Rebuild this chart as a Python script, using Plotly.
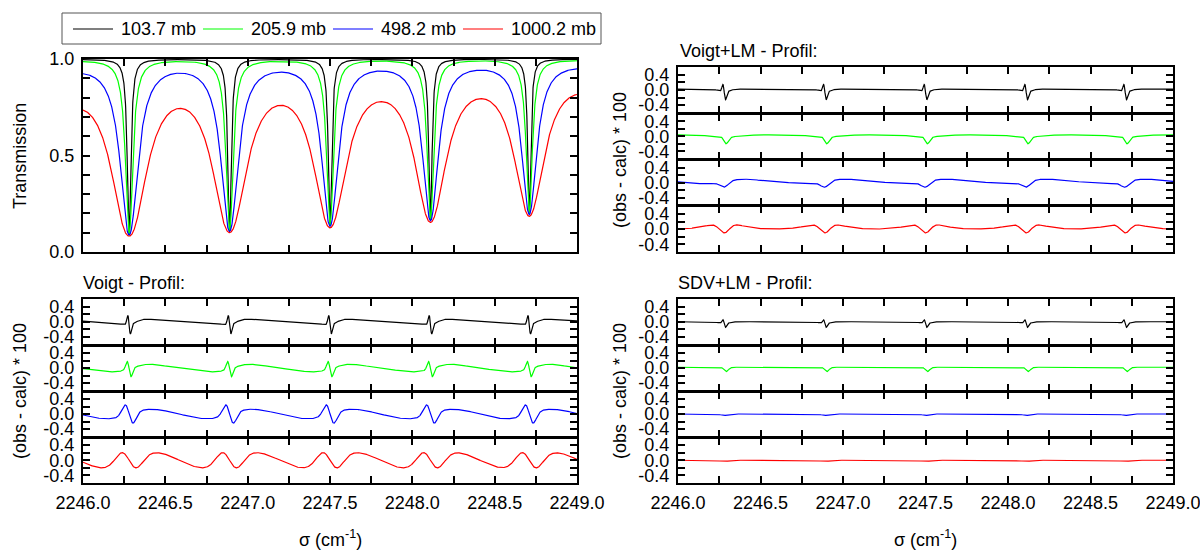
import numpy as np
import plotly.graph_objects as go

W, H = 1200, 551

# ---------------- data ----------------
pressure_labels = ["103.7 mb", "205.9 mb", "498.2 mb", "1000.2 mb"]
pressure_mb = [103.7, 205.9, 498.2, 1000.2]
trace_colors = ["#000000", "#00ff00", "#0000ff", "#ff0000"]

# absorption lines visible in the window (cm-1) and their transmission minima at 1000.2 mb
line_centers = [2246.28, 2246.89, 2247.50, 2248.11, 2248.71]
trough_min_1000 = [0.082, 0.100, 0.125, 0.153, 0.185]
# neighbouring lines just outside the window and their centre optical depth
outer_centers = [2245.67, 2249.31]
outer_tau = [2.6, 1.5]
# Lorentz half width (cm-1) at 1013.25 mb
hwhm_at_1013mb = 0.075

x_range = [2246.0, 2249.0]
x_ticks = [2246.0, 2246.5, 2247.0, 2247.5, 2248.0, 2248.5, 2249.0]
x_tick_labels = ["2246.0", "2246.5", "2247.0", "2247.5", "2248.0", "2248.5", "2249.0"]
x_minor_ticks = [2246.25, 2246.75, 2247.25, 2247.75, 2248.25, 2248.75]

trans_ticks = [0.0, 0.5, 1.0]
trans_tick_labels = ["0.0", "0.5", "1.0"]
res_ticks = [-0.4, 0.0, 0.4]
res_tick_labels = ["-0.4", "0.0", "0.4"]

panel_titles = ["Voigt - Profil:", "Voigt+LM - Profil:", "SDV+LM - Profil:"]

# residual signature around every line, per pressure (103.7, 205.9, 498.2, 1000.2 mb):
# (narrow antisym. amp, width, broad antisym. amp, width, central amp, width, wing amp, width, offset)
voigt_sig = [
    (0.25, 0.008, -0.05, 0.10, -0.10, 0.040, 0.00, 0.10, 0.02),
    (0.22, 0.012, -0.10, 0.12, -0.03, 0.050, 0.00, 0.10, 0.00),
    (0.28, 0.025, -0.13, 0.14, 0.00, 0.050, 0.00, 0.10, 0.00),
    (0.30, 0.050, -0.24, 0.17, 0.00, 0.050, 0.00, 0.10, 0.00),
]
voigt_lm_sig = [
    (0.20, 0.008, 0.00, 0.10, -0.08, 0.030, 0.00, 0.10, 0.02),
    (0.08, 0.015, 0.00, 0.10, -0.12, 0.020, -0.06, 0.08, 0.04),
    (0.00, 0.015, -0.06, 0.12, -0.15, 0.025, 0.00, 0.10, 0.03),
    (0.00, 0.015, 0.00, 0.10, -0.26, 0.030, 0.16, 0.10, 0.00),
]
sdv_lm_sig = [
    (0.10, 0.008, 0.00, 0.10, -0.05, 0.030, 0.00, 0.10, 0.00),
    (0.05, 0.015, 0.00, 0.10, -0.08, 0.020, 0.00, 0.10, 0.02),
    (0.00, 0.015, 0.00, 0.10, -0.04, 0.020, 0.00, 0.10, 0.00),
    (0.00, 0.015, 0.00, 0.10, -0.03, 0.030, 0.00, 0.10, 0.00),
]

# ---------------- spectral models built from the values above ----------------
x = np.linspace(x_range[0], x_range[1], 3001)
all_centers = [outer_centers[0]] + line_centers + [outer_centers[1]]


def lorentz(xx, x0, g):
    return g * g / ((xx - x0) ** 2 + g * g)


g_ref = hwhm_at_1013mb * pressure_mb[3] / 1013.25
c = np.array(line_centers)
M = np.array([[lorentz(cj, ck, g_ref) for ck in c] for cj in c])
rhs = -np.log(np.array(trough_min_1000)) - np.array(
    [sum(t * lorentz(cj, oc, g_ref) for oc, t in zip(outer_centers, outer_tau)) for cj in c])
tau_visible = np.linalg.solve(M, rhs)
tau_all = [outer_tau[0]] + list(tau_visible) + [outer_tau[1]]


def transmission(p):
    g = hwhm_at_1013mb * p / 1013.25
    tau = np.zeros_like(x)
    for x0, t in zip(all_centers, tau_all):
        tau += t * lorentz(x, x0, g)
    return np.exp(-tau)


def residual(sig):
    a1, w1, a2, w2, c1, v1, c2, v2, off = sig
    r = np.full_like(x, off)
    for x0 in all_centers:
        u = x0 - x
        r += a1 * (u / w1) * np.exp(0.5 - u ** 2 / (2 * w1 ** 2))
        r += a2 * (u / w2) * np.exp(0.5 - u ** 2 / (2 * w2 ** 2))
        r += c1 * np.exp(-u ** 2 / (2 * v1 ** 2)) + c2 * np.exp(-u ** 2 / (2 * v2 ** 2))
    return r


# ---------------- geometry (pixels) ----------------
def px(v):
    return v / W


def py(v):
    return 1 - v / H


LEFT = (83, 577)
RIGHT = (678, 1173)
TOP_LEFT_Y = (59, 252)
blocks = [  # (x extent, top, bottom, show x labels) for Voigt, Voigt+LM, SDV+LM
    (LEFT, 299, 483, True),
    (RIGHT, 67, 252, False),
    (RIGHT, 299, 483, True),
]
LW = 2

FONT = "Liberation Sans, Arial, sans-serif"
axis_font = dict(family=FONT, size=18, color="black")

fig = go.Figure()
layout = dict(
    width=W, height=H,
    margin=dict(l=0, r=0, t=0, b=0, autoexpand=False),
    paper_bgcolor="white", plot_bgcolor="white",
    font=axis_font,
    showlegend=False,
)


def xaxis_cfg(domain, anchor, labels):
    return dict(domain=domain, anchor=anchor, range=x_range, showline=True, linewidth=LW,
                linecolor="black", mirror="ticks", ticks="inside", ticklen=7, tickwidth=1.5,
                tickcolor="black", tickvals=x_ticks, ticktext=x_tick_labels,
                showticklabels=labels, ticklabelstandoff=2, ticklabeloverflow="allow",
                minor=dict(tickvals=x_minor_ticks, ticks="inside", ticklen=7, tickwidth=1.5,
                           tickcolor="black", showgrid=False),
                showgrid=False, zeroline=False, tickfont=axis_font)


def yaxis_cfg(domain, anchor, rng, vals, texts, minor_vals):
    return dict(domain=domain, anchor=anchor, range=rng, showline=True, linewidth=LW,
                linecolor="black", mirror="ticks", ticks="inside", ticklen=7, tickwidth=1.5,
                tickcolor="black", tickvals=vals, ticktext=texts, ticklabelstandoff=3,
                ticklabeloverflow="allow",
                minor=dict(tickvals=minor_vals, ticks="inside", ticklen=7, tickwidth=1.5,
                           tickcolor="black", showgrid=False),
                showgrid=False, zeroline=False, tickfont=axis_font)


# top-left transmission panel
layout["xaxis"] = xaxis_cfg([px(LEFT[0]), px(LEFT[1])], "y", False)
layout["yaxis"] = yaxis_cfg([py(TOP_LEFT_Y[1]), py(TOP_LEFT_Y[0])], "x", [0, 1],
                            trans_ticks, trans_tick_labels,
                            [0.1, 0.2, 0.3, 0.4, 0.6, 0.7, 0.8, 0.9])
for p, lab, col in zip(pressure_mb, pressure_labels, trace_colors):
    fig.add_trace(go.Scatter(x=x, y=transmission(p), mode="lines", name=lab,
                             line=dict(color=col, width=1.2), xaxis="x", yaxis="y"))

# residual panels (four stacked sub-panels per block)
sigs = [voigt_sig, voigt_lm_sig, sdv_lm_sig]
ax = 2
for (xext, top, bot, labels), sig_list in zip(blocks, sigs):
    h = (bot - top) / 4
    for k in range(4):
        t = top + k * h + (0.5 if k > 0 else 0)
        b = top + (k + 1) * h - (0.5 if k < 3 else 0)
        xn, yn = f"x{ax}", f"y{ax}"
        layout[f"xaxis{ax}"] = xaxis_cfg([px(xext[0]), px(xext[1])], yn, labels and k == 3)
        layout[f"yaxis{ax}"] = yaxis_cfg([py(b), py(t)], xn, [-0.6, 0.6],
                                         res_ticks, res_tick_labels, [-0.2, 0.2])
        fig.add_trace(go.Scatter(x=x, y=residual(sig_list[k]), mode="lines",
                                 name=pressure_labels[k],
                                 line=dict(color=trace_colors[k], width=1.2),
                                 xaxis=xn, yaxis=yn))
        ax += 1

ann = []
shapes = []


def text(s, xpx, ypx, xanchor="center", angle=0):
    ann.append(dict(text=s, x=px(xpx), y=py(ypx), xref="paper", yref="paper",
                    xanchor=xanchor, yanchor="middle", showarrow=False, textangle=angle,
                    font=axis_font))


text("Transmission", 20, 156, angle=-90)
text("(obs - calc) * 100", 20, 391, angle=-90)
text("(obs - calc) * 100", 620, 160, angle=-90)
text("(obs - calc) * 100", 620, 391, angle=-90)
text(panel_titles[0], 81, 283, xanchor="left")
text(panel_titles[1], 678, 51, xanchor="left")
text(panel_titles[2], 676, 283, xanchor="left")
text("σ (cm<sup>-1</sup>)", 330, 538)
text("σ (cm<sup>-1</sup>)", 925, 538)

# legend box (one entry per pressure, same colours as the traces)
shapes.append(dict(type="rect", xref="paper", yref="paper", x0=px(62), x1=px(601),
                   y0=py(44), y1=py(13), line=dict(color="#555555", width=1),
                   fillcolor="white", layer="above"))
for i, (lab, col) in enumerate(zip(pressure_labels, trace_colors)):
    x0 = 73 + 130 * i
    shapes.append(dict(type="line", xref="paper", yref="paper", x0=px(x0), x1=px(x0 + 40),
                       y0=py(29), y1=py(29), line=dict(color=col, width=1.2)))
    text(lab, x0 + 46, 29, xanchor="left")

layout["annotations"] = ann
layout["shapes"] = shapes

fig.update_layout(**layout)
fig.write_html("out.html")
